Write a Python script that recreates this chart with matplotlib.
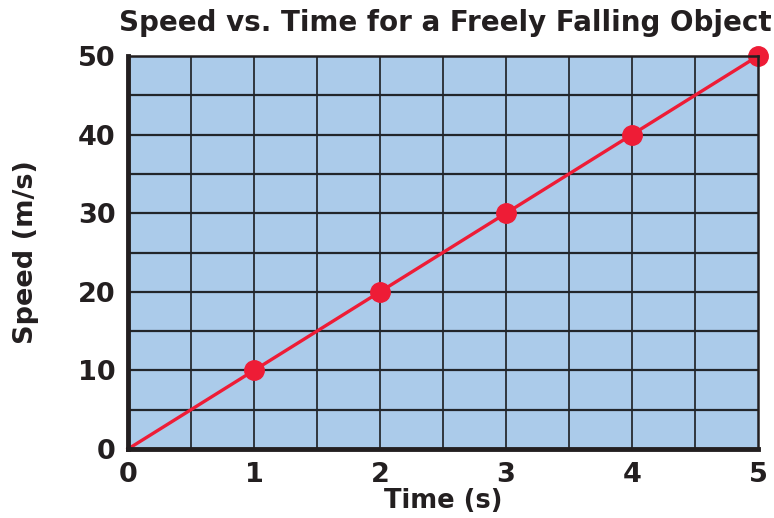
import matplotlib
matplotlib.use("Agg")
import matplotlib.pyplot as plt

time_s = [0, 1, 2, 3, 4, 5]
speed = [0, 10, 20, 30, 40, 50]
marker_time = [1, 2, 3, 4, 5]
marker_speed = [10, 20, 30, 40, 50]
x_ticks = [0, 1, 2, 3, 4, 5]
y_ticks = [0, 10, 20, 30, 40, 50]

plt.rcParams['font.family'] = ['DejaVu Sans']

fig = plt.figure(figsize=(7.74, 5.18), dpi=100)
ax = fig.add_axes([128/774, 1-449/518, (758-128)/774, (449-56)/518])
ax.set_facecolor('#abcbea')
ax.set_xlim(0, 5)
ax.set_ylim(0, 50)

for x in [0.5*i for i in range(1, 10)]:
    ax.axvline(x, color='#30363e', lw=1.4, zorder=1)
for y in [5*i for i in range(1, 10)]:
    ax.axhline(y, color='#22262b', lw=1.6, zorder=1)

ax.plot(time_s, speed, color='#ee1c36', lw=2.4, zorder=3, clip_on=False)
ax.plot(marker_time, marker_speed, 'o', color='#ee1c36', ms=14, zorder=4, clip_on=False)

ax.set_xticks(x_ticks)
ax.set_yticks(y_ticks)
ax.tick_params(axis='y', length=0, labelsize=19.5, pad=9)
ax.tick_params(axis='x', length=0, labelsize=19.5, pad=9)
for lab in ax.get_xticklabels() + ax.get_yticklabels():
    lab.set_fontweight('bold')
    lab.set_color('#231f20')

ax.spines['left'].set_linewidth(3.5)
ax.spines['bottom'].set_linewidth(3.5)
ax.spines['top'].set_linewidth(1.8)
ax.spines['right'].set_linewidth(1.8)
for s in ax.spines.values():
    s.set_color('#231f20')
    s.set_zorder(5)

ax.set_xlabel('Time (s)', fontsize=18.5, fontweight='bold', color='#231f20', labelpad=0)
ax.set_ylabel('Speed (m/s)', fontsize=19.5, fontweight='bold', color='#231f20', labelpad=28)
ax.set_title('Speed vs. Time for a Freely Falling Object', fontsize=20, fontweight='bold',
             color='#231f20', pad=18, x=0.503)

fig.savefig('out.png', dpi=100)
